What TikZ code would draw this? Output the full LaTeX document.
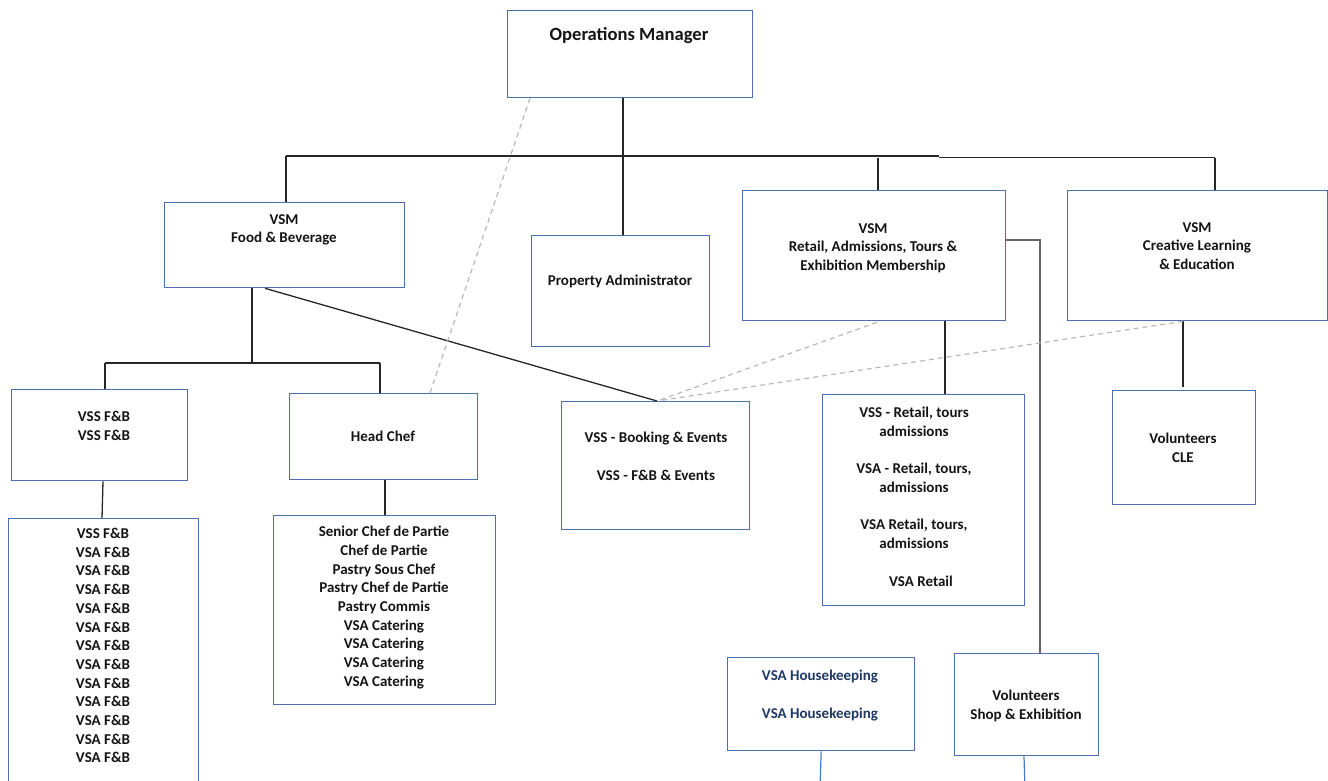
\documentclass[tikz,border=0pt]{standalone}
\usepackage{fontspec}
\setmainfont{Carlito}
\usetikzlibrary{calc}
\definecolor{boxblue}{HTML}{4D6FAB}
\definecolor{navy}{HTML}{1F3864}
\definecolor{lineblue}{HTML}{4A78C8}
\begin{document}
\begin{tikzpicture}[x=1pt,y=-1pt,
  box/.style={draw=boxblue, line width=1.3pt, inner sep=0pt, anchor=north west},
  lbl/.style={anchor=north, inner sep=0pt, align=center, text=black!92,
    font=\bfseries\fontsize{15}{18.7}\selectfont},
  conn/.style={draw=black!85, line width=1.3pt},
  greyconn/.style={draw=black!60, line width=1.6pt},
  dotconn/.style={draw=black!28, line width=1.2pt, dash pattern=on 5pt off 4pt},
  blueconn/.style={draw=lineblue, line width=1.2pt}]
\useasboundingbox (0,0) rectangle (1328,780);
\clip (0,0) rectangle (1328,780);
% boxes
\node[box, minimum width=245pt, minimum height=87pt] (om) at (507,10) {};
\node[box, minimum width=240pt, minimum height=85pt] (fb) at (164,202) {};
\node[box, minimum width=178pt, minimum height=111pt] (pa) at (531,235) {};
\node[box, minimum width=263pt, minimum height=130pt] (ret) at (742,190) {};
\node[box, minimum width=260pt, minimum height=130pt] (cle) at (1067,190) {};
\node[box, minimum width=176pt, minimum height=91pt] (vssfb) at (11,389) {};
\node[box, minimum width=188pt, minimum height=86pt] (hc) at (289,393) {};
\node[box, minimum width=188pt, minimum height=128pt] (bk) at (561,401) {};
\node[box, minimum width=202pt, minimum height=211pt] (vret) at (822,394) {};
\node[box, minimum width=143pt, minimum height=114pt] (vcle) at (1112,390) {};
\node[box, minimum width=190pt, minimum height=280pt] (list) at (8,518) {};
\node[box, minimum width=222pt, minimum height=189pt] (chef) at (273,515) {};
\node[box, minimum width=187pt, minimum height=93pt] (hk) at (727,657) {};
\node[box, minimum width=144pt, minimum height=102pt] (vshop) at (954,653) {};
% labels
\node[lbl, font=\bfseries\fontsize{18.6}{22}\selectfont] (omt) at (629,27) {Operations Manager};
\node[lbl] (fbt) at (284,214) {VSM\\Food \& Beverage};
\node[lbl] (pat) at (620,275) {Property Administrator};
\node[lbl] (rett) at (873,223) {VSM\\Retail, Admissions, Tours \&\\Exhibition Membership};
\node[lbl] (clet) at (1197,222) {VSM\\Creative Learning\\\& Education};
\node[lbl] (vssfbt) at (104,411) {VSS F\&B\\VSS F\&B};
\node[lbl] (hct) at (383,431) {Head Chef};
\node[lbl] (bkt) at (656,432) {VSS - Booking \& Events\\[18.7pt]VSS - F\&B \& Events};
\node[lbl] (vrett) at (914,407) {VSS - Retail, tours\\admissions\\[18.7pt]VSA - Retail, tours,\\admissions\\[18.7pt]VSA Retail, tours,\\admissions\\[18.7pt]\hspace*{14pt}VSA Retail};
\node[lbl] (vclet) at (1183,433) {Volunteers\\CLE};
\node[lbl] (listt) at (103,528) {VSS F\&B\\VSA F\&B\\VSA F\&B\\VSA F\&B\\VSA F\&B\\VSA F\&B\\VSA F\&B\\VSA F\&B\\VSA F\&B\\VSA F\&B\\VSA F\&B\\VSA F\&B\\VSA F\&B};
\node[lbl] (cheft) at (384,526) {Senior Chef de Partie\\Chef de Partie\\Pastry Sous Chef\\Pastry Chef de Partie\\Pastry Commis\\VSA Catering\\VSA Catering\\VSA Catering\\VSA Catering};
\node[lbl, text=navy] (hkt) at (820,670) {VSA Housekeeping\\[18.7pt]VSA Housekeeping};
\node[lbl] (vshopt) at (1026,690) {Volunteers\\Shop \& Exhibition};
% junction coordinates
\coordinate (busL) at (286,156);
\coordinate (busM) at (623,156);
\coordinate (busK) at (939,156);
\coordinate (busK2) at (939,157.5);
\coordinate (busR) at (878,157.5);
\coordinate (busE) at (1215,157.5);
\coordinate (fbj) at (252,363);
\coordinate (fbL) at (105,363);
\coordinate (fbR) at (380,363);
\coordinate (retj) at (1040,240);
\coordinate (hkend) at (820,790);
\coordinate (vsend) at (1025,790);
% tree connectors
\draw[conn] (om.south -| busM) -- (busM);
\draw[conn] (busL) -- (busK);
\draw[conn] (busK2) -- (busE);
\draw[conn] (busM) -- (pa.north -| busM);
\draw[conn] (busL) -- (fb.north -| busL);
\draw[conn] (busR) -- (ret.north -| busR);
\draw[conn] (busE) -- (cle.north -| busE);
\draw[conn] (fb.south -| fbj) -- (fbj);
\draw[conn] (fbL) -- (fbR);
\draw[conn] (fbL) -- (vssfb.north -| fbL);
\draw[conn] (fbR) -- (hc.north -| fbR);
\draw[conn] ($(vssfb.south west)+(92,0)$) -- ($(list.north west)+(94,0)$);
\draw[conn] ($(hc.south west)+(96,0)$) -- ($(chef.north west)+(112,0)$);
\draw[conn] ($(fb.south west)+(101,0)$) -- ($(bk.north west)+(96,0)$);
\draw[conn] ($(ret.south west)+(203,0)$) -- ($(vret.north west)+(123,0)$);
\draw[conn] ($(cle.south west)+(116,0)$) -- ($(vcle.north west)+(71,-3)$);
\draw[greyconn] (ret.east |- retj) -- (retj) -- (vshop.north -| retj);
\draw[blueconn] (hk.south) -- (hkend);
\draw[blueconn] ($(vshop.south west)+(70,0)$) -- (vsend);
% dotted relations
\draw[dotconn] ($(om.south west)+(23,0)$) -- ($(hc.north west)+(141,0)$);
\draw[dotconn] ($(ret.south west)+(135,1)$) -- ($(bk.north west)+(96,0)$);
\draw[dotconn] ($(cle.south west)+(116,0)$) -- ($(bk.north west)+(96,0)$);
\end{tikzpicture}
\end{document}
